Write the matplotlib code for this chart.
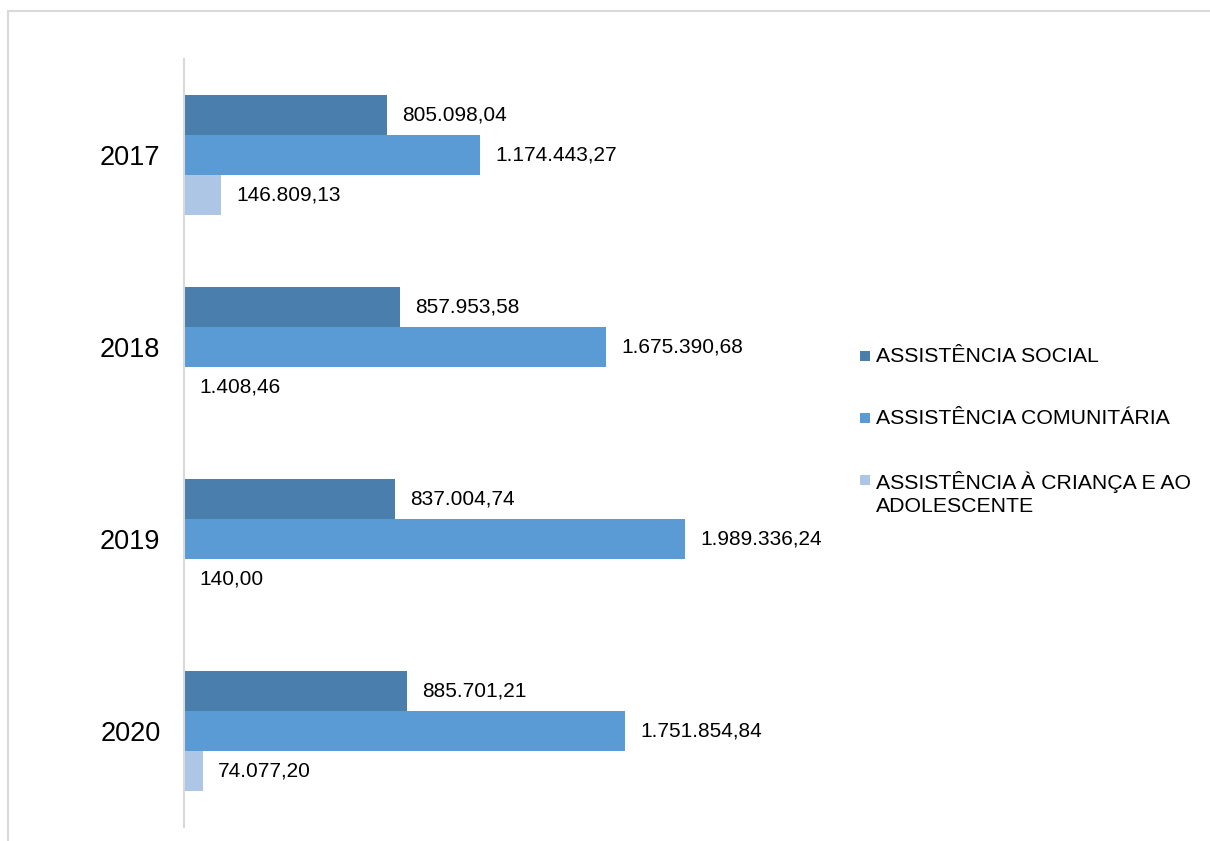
import matplotlib
matplotlib.use("Agg")
import matplotlib.pyplot as plt
import numpy as np
from matplotlib.patches import Rectangle

plt.rcParams["font.family"] = ["Liberation Sans", "DejaVu Sans"]

years = ["2017", "2018", "2019", "2020"]
series_names = [
    "ASSISTÊNCIA SOCIAL",
    "ASSISTÊNCIA COMUNITÁRIA",
    "ASSISTÊNCIA À CRIANÇA E AO\nADOLESCENTE",
]
social = [805098.04, 857953.58, 837004.74, 885701.21]
comunitaria = [1174443.27, 1675390.68, 1989336.24, 1751854.84]
crianca = [146809.13, 1408.46, 140.00, 74077.20]
colors = ["#4a7ead", "#5b9bd5", "#adc6e6"]


def fmt_br(v):
    s = f"{v:,.2f}"
    return s.replace(",", "X").replace(".", ",").replace("X", ".")


W, H = 1210, 841
fig = plt.figure(figsize=(W / 100, H / 100), dpi=100)

# outer frame (cut at right/bottom like the source)
fig.add_artist(Rectangle((8 / W, -0.1), 1.2, 1 - 11 / H + 0.1, transform=fig.transFigure,
                         fill=False, edgecolor="#d9d9d9", lw=1.5))

ax = fig.add_axes([184 / W, 1 - 827 / H, 630 / W, 768 / H])
y = np.arange(len(years))
h = 0.208
for i, (vals, c) in enumerate(zip([social, comunitaria, crianca], colors)):
    pos = y + (i - 1) * h
    ax.barh(pos, vals, height=h, color=c, edgecolor="none")
    for p, v in zip(pos, vals):
        ax.annotate(fmt_br(v), (v, p), xytext=(11, 0), textcoords="offset points",
                    ha="left", va="center", fontsize=15, color="black")

ax.set_xlim(0, 2.5e6)
ax.set_ylim(3.5, -0.5)
ax.set_yticks(y)
ax.set_yticklabels(years, fontsize=19.5)
ax.tick_params(axis="y", length=0, pad=17)
ax.set_xticks([])
for s in ["top", "right", "bottom"]:
    ax.spines[s].set_visible(False)
ax.spines["left"].set_color("#d9d9d9")
ax.spines["left"].set_linewidth(1.5)
ax.set_facecolor("none")

# legend drawn by hand to keep the marker on the first text line
leg_y = [356, 418, 480]
for yy, name, c in zip(leg_y, series_names, colors):
    fig.add_artist(Rectangle((860 / W, 1 - (yy + 5) / H), 10 / W, 10 / H,
                             transform=fig.transFigure, facecolor=c, edgecolor="none"))
    fig.text(876 / W, 1 - (yy - 9) / H, name, ha="left", va="top", fontsize=15.3,
             linespacing=1.25)

fig.savefig("out.png", dpi=100)
